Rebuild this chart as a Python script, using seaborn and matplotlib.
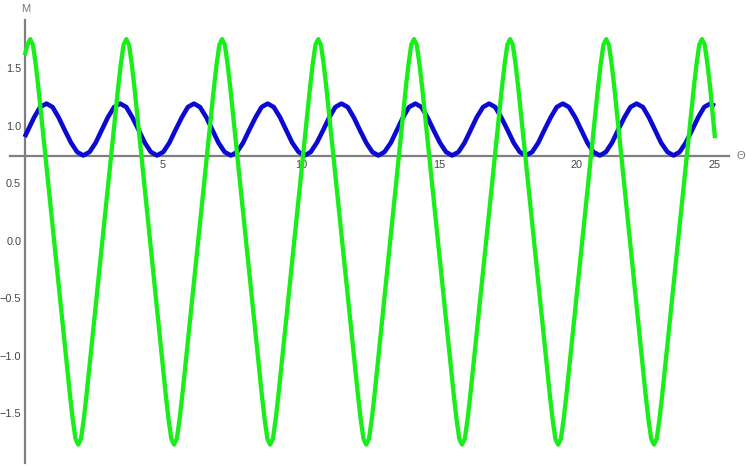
import matplotlib
matplotlib.use("Agg")
import matplotlib.pyplot as plt
import seaborn as sns
import pandas as pd
from matplotlib.ticker import FixedLocator, FuncFormatter

# ---- data ----
theta_blue = [
    0.00, 0.12, 0.34, 0.56,
    0.79, 1.01, 1.23, 1.45, 1.68, 1.90, 2.12, 2.35, 2.57, 2.79, 3.01, 3.24,
    3.46, 3.68, 3.90, 4.13, 4.35, 4.57, 4.79, 5.02, 5.24, 5.46, 5.69, 5.91,
    6.13, 6.35, 6.58, 6.80, 7.02, 7.24, 7.47, 7.69, 7.91, 8.13, 8.36, 8.58,
    8.80, 9.02, 9.25, 9.47, 9.69, 9.92, 10.14, 10.36, 10.58, 10.81, 11.03, 11.25,
    11.47, 11.70, 11.92, 12.14, 12.37, 12.59, 12.81, 13.03, 13.26, 13.48, 13.70, 13.92,
    14.15, 14.37, 14.59, 14.81, 15.04, 15.26, 15.48, 15.71, 15.93, 16.15, 16.37, 16.60,
    16.82, 17.04, 17.26, 17.49, 17.71, 17.93, 18.15, 18.38, 18.60, 18.82, 19.05, 19.27,
    19.49, 19.71, 19.94, 20.16, 20.38, 20.60, 20.83, 21.05, 21.27, 21.49, 21.72, 21.94,
    22.16, 22.39, 22.61, 22.83, 23.05, 23.28, 23.50, 23.72, 23.94, 24.17, 24.39, 24.61,
    24.83, 25.00,
]
m_blue = [
    0.90, 0.96, 1.07, 1.16,
    1.19, 1.16, 1.07, 0.96, 0.85, 0.77, 0.74, 0.77, 0.85, 0.96, 1.07, 1.16,
    1.19, 1.16, 1.07, 0.96, 0.85, 0.77, 0.74, 0.77, 0.85, 0.96, 1.07, 1.16,
    1.19, 1.16, 1.07, 0.96, 0.85, 0.77, 0.74, 0.77, 0.85, 0.96, 1.07, 1.16,
    1.19, 1.16, 1.07, 0.96, 0.85, 0.77, 0.74, 0.77, 0.85, 0.96, 1.07, 1.16,
    1.19, 1.16, 1.07, 0.96, 0.85, 0.77, 0.74, 0.77, 0.85, 0.96, 1.07, 1.16,
    1.19, 1.16, 1.07, 0.96, 0.85, 0.77, 0.74, 0.77, 0.85, 0.96, 1.07, 1.16,
    1.19, 1.16, 1.07, 0.96, 0.85, 0.77, 0.74, 0.77, 0.85, 0.96, 1.07, 1.16,
    1.19, 1.16, 1.07, 0.96, 0.85, 0.77, 0.74, 0.77, 0.85, 0.96, 1.07, 1.16,
    1.19, 1.16, 1.07, 0.96, 0.85, 0.77, 0.74, 0.77, 0.85, 0.96, 1.07, 1.16,
    1.19, 1.17,
]

theta_green = [
    0.00, 0.10, 0.20, 0.30, 0.40, 0.50,
    1.64, 1.74, 1.84, 1.94, 2.04, 2.14, 2.24,
    3.38, 3.48, 3.58, 3.68, 3.78, 3.88, 3.98,
    5.11, 5.21, 5.31, 5.41, 5.51, 5.61, 5.71,
    6.85, 6.95, 7.05, 7.15, 7.25, 7.35, 7.45,
    8.59, 8.69, 8.79, 8.89, 8.99, 9.09, 9.19,
    10.33, 10.43, 10.53, 10.63, 10.73, 10.83, 10.93,
    12.07, 12.17, 12.27, 12.37, 12.47, 12.57, 12.67,
    13.80, 13.90, 14.00, 14.10, 14.20, 14.30, 14.40,
    15.54, 15.64, 15.74, 15.84, 15.94, 16.04, 16.14,
    17.28, 17.38, 17.48, 17.58, 17.68, 17.78, 17.88,
    19.02, 19.12, 19.22, 19.32, 19.42, 19.52, 19.62,
    20.76, 20.86, 20.96, 21.06, 21.16, 21.26, 21.36,
    22.49, 22.59, 22.69, 22.79, 22.89, 22.99, 23.09,
    24.23, 24.33, 24.43, 24.53, 24.63, 24.73, 24.83, 25.00,
]
m_green = [
    1.61, 1.70, 1.75, 1.70, 1.53, 1.32,
    -1.34, -1.55, -1.72, -1.77, -1.72, -1.55, -1.34,
    1.32, 1.53, 1.70, 1.75, 1.70, 1.53, 1.32,
    -1.34, -1.55, -1.72, -1.77, -1.72, -1.55, -1.34,
    1.32, 1.53, 1.70, 1.75, 1.70, 1.53, 1.32,
    -1.34, -1.55, -1.72, -1.77, -1.72, -1.55, -1.34,
    1.32, 1.53, 1.70, 1.75, 1.70, 1.53, 1.32,
    -1.34, -1.55, -1.72, -1.77, -1.72, -1.55, -1.34,
    1.32, 1.53, 1.70, 1.75, 1.70, 1.53, 1.32,
    -1.34, -1.55, -1.72, -1.77, -1.72, -1.55, -1.34,
    1.32, 1.53, 1.70, 1.75, 1.70, 1.53, 1.32,
    -1.34, -1.55, -1.72, -1.77, -1.72, -1.55, -1.34,
    1.32, 1.53, 1.70, 1.75, 1.70, 1.53, 1.32,
    -1.34, -1.55, -1.72, -1.77, -1.72, -1.55, -1.34,
    1.32, 1.53, 1.70, 1.75, 1.70, 1.53, 1.32, 0.89,
]

x_major_ticks = [5, 10, 15, 20, 25]
x_minor_ticks = [1, 2, 3, 4, 6, 7, 8, 9, 11, 12, 13, 14, 16, 17, 18, 19, 21, 22, 23, 24]
y_major_ticks = [-1.5, -1.0, -0.5, 0.0, 0.5, 1.0, 1.5]
y_minor_ticks = [v / 10 for v in range(-19, 20) if v % 5 != 0]
x_label = "\u0398"
y_label = "M"
axis_cross_m = 0.735
x_range = (-0.54, 25.5)
y_range = (-1.93, 1.92)

# ---- figure ----
sns.set_style("white")
plt.rcParams["font.family"] = ["Liberation Sans", "DejaVu Sans"]

fig = plt.figure(figsize=(7.46, 4.66), dpi=100)
ax = fig.add_axes([0.0131, 0.0064, 0.9638, 0.9517])

df_blue = pd.DataFrame({"theta": theta_blue, "M": m_blue})
df_green = pd.DataFrame({"theta": theta_green, "M": m_green})

sns.lineplot(data=df_blue, x="theta", y="M", ax=ax, color="#0a0ad2",
             linewidth=3.3, estimator=None, sort=False, zorder=3)
sns.lineplot(data=df_green, x="theta", y="M", ax=ax, color="#1aee1a",
             linewidth=3.1, estimator=None, sort=False, zorder=4)
for line in ax.get_lines():
    line.set_solid_joinstyle("round")
    line.set_solid_capstyle("butt")

ax.set_xlim(*x_range)
ax.set_ylim(*y_range)
ax.set_xlabel("")
ax.set_ylabel("")

for s in ["top", "right"]:
    ax.spines[s].set_visible(False)
ax.spines["left"].set_position(("data", 0))
ax.spines["bottom"].set_position(("data", axis_cross_m))
for s in ["left", "bottom"]:
    ax.spines[s].set_color("#7f7f7f")
    ax.spines[s].set_linewidth(1.6)
    ax.spines[s].set_zorder(2)

ax.xaxis.set_major_locator(FixedLocator(x_major_ticks))
ax.xaxis.set_minor_locator(FixedLocator(x_minor_ticks))
ax.yaxis.set_major_locator(FixedLocator(y_major_ticks))
ax.yaxis.set_minor_locator(FixedLocator(y_minor_ticks))
ax.xaxis.set_major_formatter(FuncFormatter(lambda v, p: f"{v:g}"))
ax.yaxis.set_major_formatter(FuncFormatter(lambda v, p: f"{v:.1f}".replace("-", "\u2212")))

ax.tick_params(axis="both", which="major", direction="in", length=4.5, width=1.0,
               color="#7f7f7f", labelsize=7.8, labelcolor="#444444", pad=2.5)
ax.tick_params(axis="both", which="minor", direction="in", length=2.5, width=0.9,
               color="#7f7f7f")

ax.annotate(y_label, xy=(0, 1), xycoords=("data", "axes fraction"),
            xytext=(1, 4), textcoords="offset points", ha="center", va="bottom",
            fontsize=8, color="#777777", annotation_clip=False)
ax.annotate(x_label, xy=(1, axis_cross_m), xycoords=("axes fraction", "data"),
            xytext=(8.5, 0), textcoords="offset points", ha="center", va="center",
            fontsize=8, color="#777777", annotation_clip=False)

ax.grid(False)
fig.savefig("out.png", dpi=100)
